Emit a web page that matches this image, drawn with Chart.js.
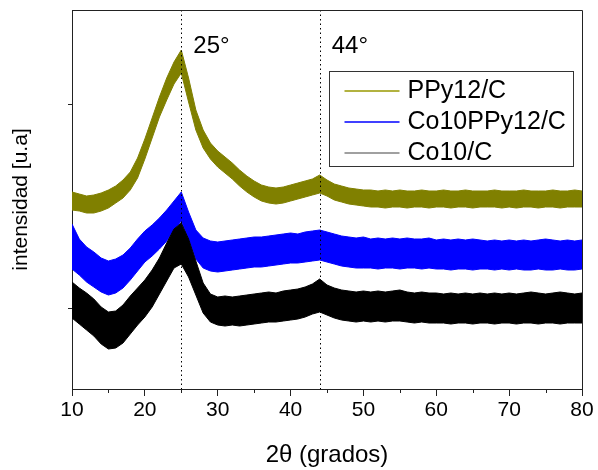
<!DOCTYPE html>
<html>
<head>
<meta charset="utf-8">
<script src="https://cdn.jsdelivr.net/npm/chart.js@4.4.1/dist/chart.umd.min.js"></script>
<style>
  html, body { margin: 0; padding: 0; background: #fff; }
</style>
</head>
<body>
<canvas id="xrd" width="598" height="470"></canvas>
<script>
// 2theta sampling (degrees)
const twoTheta = [10,11,12,13,14,15,16,17,18,19,20,21,22,23,24,25,26,27,28,29,
  30,31,32,33,34,35,36,37,38,39,40,41,42,43,44,45,46,47,48,49,
  50,51,52,53,54,55,56,57,58,59,60,61,62,63,64,65,66,67,68,69,
  70,71,72,73,74,75,76,77,78,79,80];

// upper / lower edges of each noisy trace (arbitrary units)
const ppyUpper = [197,195,193,194,196,199,203,209,217,231,
  250,271,292,311,327,339,311,279,259,246,
  238,232,226,219,213,208,204,202,201,202,
  204,206,208,210,214,209,205,203,201,200,
  199,199,198,199,198,199,198,198,199,198,
  198,199,198,198,199,198,198,198,199,198,
  198,198,199,198,198,198,199,198,198,199,198];
const ppyLower = [179,178,176,176,178,181,186,191,199,211,
  230,251,272,289,305,316,287,259,241,230,
  222,216,210,203,197,192,188,186,185,186,
  188,190,192,194,196,193,189,187,185,184,
  183,182,182,181,182,182,181,182,182,181,
  182,182,181,182,182,181,182,182,182,181,
  182,181,182,182,181,182,182,181,182,182,182];

const coPpyUpper = [165,150,142,137,131,128,130,134,141,150,
  158,164,171,179,188,197,177,159,151,148,
  147,148,149,150,151,152,152,153,154,155,
  156,155,157,158,159,157,155,153,152,151,
  152,150,151,150,151,150,151,150,150,151,
  149,150,149,150,149,150,149,148,149,148,
  149,148,149,148,149,150,149,148,149,148,149];
const coPpyLower = [120,114,107,102,97,94,96,101,109,118,
  127,133,140,148,159,168,150,130,121,118,
  117,118,119,120,121,122,122,123,124,125,
  126,126,127,128,129,127,125,123,122,121,
  121,121,120,121,121,120,121,121,120,121,
  120,120,119,120,120,119,120,120,119,120,
  119,120,119,119,120,119,119,120,119,119,120];

const coUpper = [107,101,96,90,82,77,78,84,93,101,
  109,119,131,146,160,166,150,128,106,95,
  92,93,92,93,94,95,96,97,96,98,
  99,100,102,105,110,104,101,99,98,97,
  98,97,98,97,98,99,97,96,97,96,
  96,95,96,95,96,95,96,95,96,95,
  96,95,96,97,96,95,96,97,96,95,96];
const coLower = [71,65,59,53,45,40,41,46,55,64,
  72,82,95,108,121,125,112,94,76,67,
  64,63,64,63,64,65,66,67,67,68,
  69,70,72,75,77,74,71,69,68,67,
  68,67,68,67,68,68,67,66,67,66,
  66,66,65,66,66,65,66,66,65,66,
  66,65,66,66,65,66,66,65,66,66,66];

const seriesNames = ['PPy12/C', 'Co10PPy12/C', 'Co10/C'];
const seriesColors = ['#808000', '#0000ff', '#000000'];
const legendColors = ['#999900', '#0000ff', '#808080'];

const xTicks = [10, 20, 30, 40, 50, 60, 70, 80];
const xMinorTicks = [15, 25, 35, 45, 55, 65, 75];
const yTicks = [81, 285];
const peakMarks = [25, 44];
const peakLabels = ['25°', '44°'];

const FONT = '"Liberation Sans", Arial, sans-serif';

function pairs(ys) {
    return twoTheta.map((t, i) => ({ x: t, y: ys[i] }));
}

function band(name, color, upper, lower, order) {
    return [
        { label: name, data: pairs(upper), borderColor: color, backgroundColor: color,
          borderWidth: 1, pointRadius: 0, tension: 0, fill: '+1', order: order },
        { label: name + ' (low)', data: pairs(lower), borderColor: color,
          borderWidth: 1, pointRadius: 0, tension: 0, fill: false, order: order }
    ];
}

const decorPlugin = {
    id: 'decor',
    afterDatasetsDraw(chart) {
        const { ctx, chartArea: a, scales: { x } } = chart;
        ctx.save();
        ctx.strokeStyle = '#000';
        ctx.lineWidth = 1;
        ctx.setLineDash([1.5, 3]);
        peakMarks.forEach(v => {
            const px = Math.round(x.getPixelForValue(v)) + 0.5;
            ctx.beginPath();
            ctx.moveTo(px, a.top);
            ctx.lineTo(px, a.bottom);
            ctx.stroke();
        });
        ctx.restore();
    },
    afterDraw(chart) {
        const { ctx, chartArea: a, scales: { x } } = chart;
        ctx.save();
        // frame top / right
        ctx.strokeStyle = '#222';
        ctx.lineWidth = 1;
        ctx.beginPath();
        ctx.moveTo(a.left, a.top + 0.5);
        ctx.lineTo(a.right + 0.5, a.top + 0.5);
        ctx.lineTo(a.right + 0.5, a.bottom);
        ctx.stroke();
        // minor ticks
        xMinorTicks.forEach(v => {
            const px = Math.round(x.getPixelForValue(v)) + 0.5;
            ctx.beginPath();
            ctx.moveTo(px, a.bottom);
            ctx.lineTo(px, a.bottom + 4);
            ctx.stroke();
        });
        // peak labels
        ctx.fillStyle = '#000';
        ctx.font = '24px ' + FONT;
        ctx.textBaseline = 'middle';
        ctx.textAlign = 'left';
        peakLabels.forEach((t, i) => {
            ctx.fillText(t, x.getPixelForValue(peakMarks[i]) + 12, a.top + 36);
        });
        // legend
        const bx = 329.5, by = 71.5, bw = 244, bh = 95;
        ctx.fillStyle = '#fff';
        ctx.fillRect(bx, by, bw, bh);
        ctx.strokeStyle = '#333';
        ctx.strokeRect(bx, by, bw, bh);
        ctx.font = '25px ' + FONT;
        seriesNames.forEach((n, i) => {
            const ry = by + 19 + i * 31;
            ctx.strokeStyle = legendColors[i];
            ctx.lineWidth = 1.5;
            ctx.beginPath();
            ctx.moveTo(bx + 15, Math.round(ry));
            ctx.lineTo(bx + 70, Math.round(ry));
            ctx.stroke();
            ctx.fillStyle = '#000';
            ctx.fillText(n, bx + 78, ry + 1);
        });
        ctx.restore();
    }
};

new Chart(document.getElementById('xrd'), {
    type: 'line',
    data: {
        datasets: [
            ...band(seriesNames[0], seriesColors[0], ppyUpper, ppyLower, 2),
            ...band(seriesNames[1], seriesColors[1], coPpyUpper, coPpyLower, 1),
            ...band(seriesNames[2], seriesColors[2], coUpper, coLower, 0)
        ]
    },
    options: {
        responsive: false,
        animation: false,
        layout: { padding: { top: 10, right: 16, left: 0, bottom: 0 } },
        plugins: { legend: { display: false }, tooltip: { enabled: false } },
        scales: {
            x: {
                type: 'linear', min: 10, max: 80,
                afterBuildTicks: s => { s.ticks = xTicks.map(v => ({ value: v })); },
                afterFit: s => { s.height = 81; },
                ticks: { font: { family: FONT, size: 21 }, color: '#000', padding: 2, maxRotation: 0, autoSkip: false },
                grid: { drawOnChartArea: false, tickLength: 7, tickColor: '#222' },
                border: { color: '#222', width: 1 },
                title: { display: true, text: '2θ (grados)', font: { family: FONT, size: 24 }, color: '#000', padding: { top: 0, bottom: 0 } }
            },
            y: {
                min: 0, max: 379,
                afterBuildTicks: s => { s.ticks = yTicks.map(v => ({ value: v })); },
                afterFit: s => { s.width = 72; },
                ticks: { display: false },
                grid: { drawOnChartArea: false, tickLength: 4, tickColor: '#222' },
                border: { color: '#222', width: 1 },
                title: { display: true, text: 'intensidad [u.a]', font: { family: FONT, size: 21 }, color: '#000', padding: { top: 9, bottom: 0 } }
            }
        }
    },
    plugins: [decorPlugin]
});
</script>
</body>
</html>
